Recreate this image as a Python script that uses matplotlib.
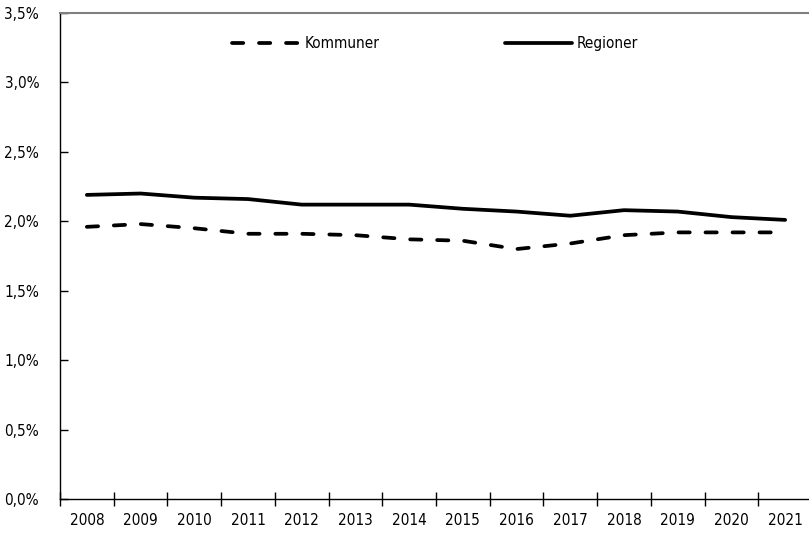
import matplotlib.pyplot as plt
import numpy as np
from matplotlib.ticker import FuncFormatter, FixedLocator

plt.rcParams['font.family'] = ['DejaVu Sans Condensed', 'Liberation Sans Narrow', 'DejaVu Sans']
plt.rcParams['font.stretch'] = 'condensed'

years = ['2008', '2009', '2010', '2011', '2012', '2013', '2014',
         '2015', '2016', '2017', '2018', '2019', '2020', '2021']
kommuner = [1.96, 1.98, 1.95, 1.91, 1.91, 1.90, 1.87, 1.86, 1.80, 1.84, 1.90, 1.92, 1.92, 1.92]
regioner = [2.19, 2.20, 2.17, 2.16, 2.12, 2.12, 2.12, 2.09, 2.07, 2.04, 2.08, 2.07, 2.03, 2.01]

fig = plt.figure(figsize=(8.09, 5.33), dpi=100)
ax = fig.add_axes([60/809, 34/533, 752/809, 486/533])

x = np.arange(len(years))
ax.plot(x, kommuner, color='black', lw=2.7, dashes=(3.0, 4.2),
        dash_capstyle='round', solid_capstyle='round', label='Kommuner')
ax.plot(x, regioner, color='black', lw=2.7, solid_capstyle='round', label='Regioner')

ax.set_xlim(-0.5, len(years) - 0.5)
ax.set_ylim(0, 3.5)
ax.set_yticks(np.arange(0, 3.51, 0.5))
ax.yaxis.set_major_formatter(FuncFormatter(lambda v, p: ('%.1f%%' % v).replace('.', ',')))

ax.set_xticks(x)
ax.set_xticklabels(years)
ax.xaxis.set_minor_locator(FixedLocator(np.arange(-0.5, len(years), 1.0)))
ax.tick_params(axis='x', which='major', length=0, pad=10, labelsize=11)
ax.tick_params(axis='x', which='minor', direction='inout', length=10, width=1)
ax.tick_params(axis='y', direction='in', length=6, width=1, labelsize=11, pad=15)

ax.spines['right'].set_visible(False)
ax.spines['top'].set_color('#808080')
ax.spines['top'].set_linewidth(1.5)
ax.spines['left'].set_linewidth(1)
ax.spines['bottom'].set_linewidth(1)

ax.legend(loc='upper left', bbox_to_anchor=(0.21, 0.98), ncol=2, frameon=False,
          fontsize=11, handlelength=4.4, handletextpad=0.35, columnspacing=8.2)

fig.savefig('out.png', dpi=100)
